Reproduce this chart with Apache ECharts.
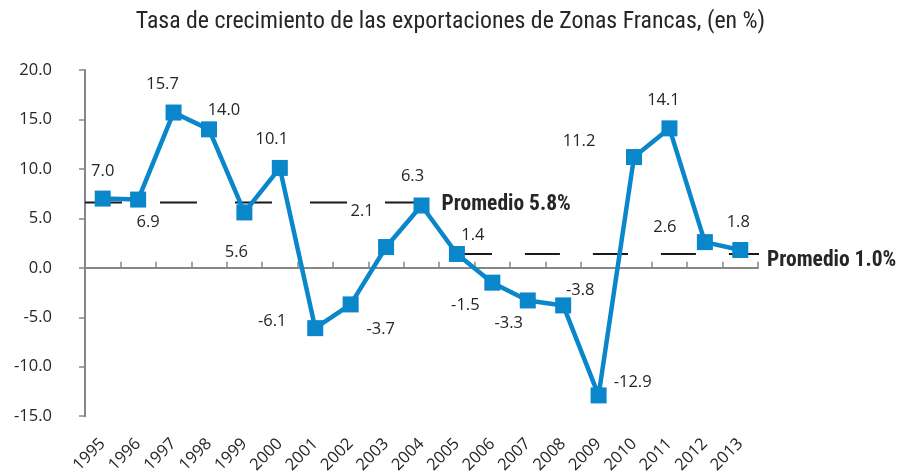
<!DOCTYPE html>
<html>
<head>
<meta charset="utf-8">
<script src="https://cdn.jsdelivr.net/npm/echarts@6/dist/echarts.min.js"></script>
<style>
  html, body { margin: 0; padding: 0; background: #fff; }
  #chart { width: 901px; height: 476px; }
</style>
</head>
<body>
<div id="chart"></div>
<script>
// datos del grafico
const years = ['1995', '1996', '1997', '1998', '1999', '2000', '2001', '2002', '2003', '2004',
  '2005', '2006', '2007', '2008', '2009', '2010', '2011', '2012', '2013']
const growth = [7.0, 6.9, 15.7, 14.0, 5.6, 10.1, -6.1, -3.7, 2.1, 6.3,
  1.4, -1.5, -3.3, -3.8, -12.9, 11.2, 14.1, 2.6, 1.8]
const yTicks = [-15, -10, -5, 0, 5, 10, 15, 20]
// lineas de promedio (posicion dibujada en el grafico)
const avgFirst = [[0, 6.6], [9.5, 6.6]]
const avgSecond = [[10.5, 1.4], [19.1, 1.4]]
const avgLabels = ['Promedio 5.8%', 'Promedio 1.0%']

// desplazamiento de cada etiqueta respecto al marcador
const labelOffsets = [
  [0, -27], [10, 23], [-11, -28], [15, -19], [-8, 40], [-8, -29], [-43, -7], [30, 25],
  [-24, -36], [-9, -29], [16, -19], [-27, 23], [-19, 23], [17, -15], [34, -13],
  [-55, -16], [-6, -28], [-40, -15], [-2, -28]
]

const textColor = '#262626'
const condensed = "'Liberation Sans Narrow', 'Roboto Condensed', 'DejaVu Sans Condensed', 'Arial Narrow', sans-serif"
const labelFont = "'Open Sans', 'Noto Sans', sans-serif"

const chart = echarts.init(document.getElementById('chart'))

const option = {
  animation: false,
  title: {
    text: 'Tasa de crecimiento de las exportaciones de Zonas Francas, (en %)',
    left: 'center',
    top: 5,
    textStyle: { fontFamily: condensed, fontSize: 23.8, fontWeight: 'normal', color: textColor }
  },
  grid: { left: 85, right: 143, top: 70, bottom: 59, containLabel: false },
  xAxis: [
    {
      type: 'category',
      data: years,
      position: 'bottom',
      axisLine: { show: false, onZero: false },
      axisTick: { show: false },
      axisLabel: { rotate: 45, margin: 25, fontFamily: labelFont, fontSize: 16.5, color: textColor }
    },
    {
      type: 'category',
      data: years,
      axisLine: { show: true, onZero: true, lineStyle: { color: '#868686', width: 2 } },
      axisTick: { show: true, length: 6, lineStyle: { color: '#868686', width: 1.5 } },
      axisLabel: { show: false }
    },
    { type: 'value', min: 0, max: 19, show: false }
  ],
  yAxis: {
    type: 'value',
    min: yTicks[0],
    max: yTicks[yTicks.length - 1],
    interval: 5,
    splitLine: { show: false },
    axisLine: { show: true, lineStyle: { color: '#868686', width: 2 } },
    axisTick: { show: true, length: 6, lineStyle: { color: '#868686', width: 1.5 } },
    axisLabel: {
      margin: 33,
      fontFamily: labelFont,
      fontSize: 16.5,
      color: textColor,
      formatter: (v) => v.toFixed(1)
    }
  },
  series: [
    {
      type: 'line',
      xAxisIndex: 2,
      data: avgFirst,
      symbol: 'none',
      clip: false,
      lineStyle: { color: '#1a1a1a', width: 2, type: [37, 38] },
      endLabel: {
        show: true,
        formatter: avgLabels[0],
        distance: 20,
        offset: [0, 2],
        fontFamily: condensed,
        fontWeight: 'bold',
        fontSize: 21.5,
        color: textColor
      },
      z: 1
    },
    {
      type: 'line',
      xAxisIndex: 2,
      data: avgSecond,
      symbol: 'none',
      clip: false,
      lineStyle: { color: '#1a1a1a', width: 2, type: [35, 33] },
      endLabel: {
        show: true,
        formatter: avgLabels[1],
        distance: 8,
        offset: [0, 7],
        fontFamily: condensed,
        fontWeight: 'bold',
        fontSize: 21.5,
        color: textColor
      },
      z: 1
    },
    {
      type: 'line',
      xAxisIndex: 0,
      data: growth.map((v, i) => ({
        value: v,
        label: { offset: labelOffsets[i] }
      })),
      symbol: 'rect',
      symbolSize: 16,
      itemStyle: { color: '#0a86cb' },
      lineStyle: { color: '#0a86cb', width: 4.5 },
      label: {
        show: true,
        position: 'inside',
        align: 'center',
        verticalAlign: 'middle',
        fontFamily: labelFont,
        fontSize: 16.5,
        color: textColor,
        formatter: (p) => p.value.toFixed(1)
      },
      z: 3
    }
  ]
}

chart.setOption(option)
</script>
</body>
</html>
